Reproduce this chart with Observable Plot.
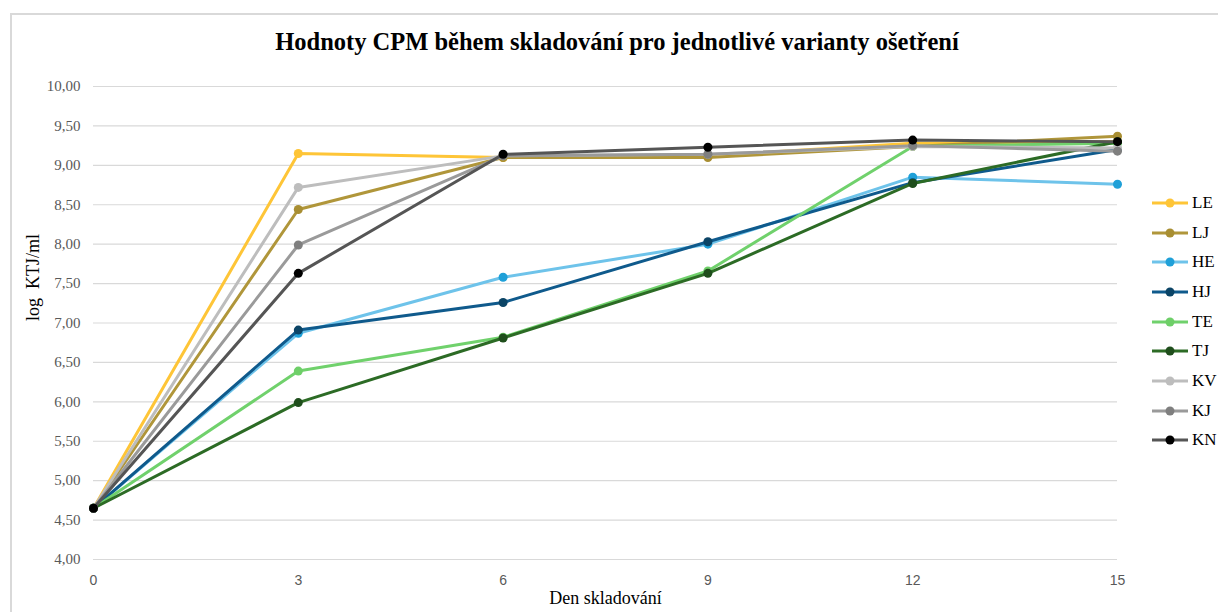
<!DOCTYPE html>
<html><head><meta charset="utf-8">
<script src="https://cdn.jsdelivr.net/npm/d3@7"></script>
<script src="https://cdn.jsdelivr.net/npm/@observablehq/plot@0.6"></script>
<style>
body{margin:0;width:1218px;height:612px;overflow:hidden;background:#fff;font-family:"Liberation Serif","Times New Roman",serif}
#wrap{position:relative;width:1218px;height:612px;overflow:hidden}
#frame{position:absolute;left:10px;top:13px;width:1300px;height:700px;border:2px solid #d9d9d9;box-sizing:border-box}
#title{position:absolute;top:28px;left:0;width:1234px;text-align:center;font-weight:bold;font-size:24.5px;color:#000;font-family:"Liberation Serif",serif}
#chart{position:absolute;left:0;top:70px}
#legend{position:absolute;left:1150px;top:188px}
.li{display:flex;align-items:center;height:29.7px;font-size:17px;color:#000;font-family:"Liberation Serif",serif}
.li svg{margin-right:2px}
g[aria-label="y-axis tick label"] text{font-family:"Liberation Serif",serif !important;font-size:15px}
g[aria-label="x-axis tick label"] text{font-family:"Liberation Sans",Arial,sans-serif !important;font-size:14px}
g[aria-label="text"] text{white-space:pre}
</style>
</head><body>
<div id="wrap">
<div id="frame"></div>
<div id="title">Hodnoty CPM během skladování pro jednotlivé varianty ošetření</div>
<div id="chart"></div>
<div id="legend"></div>
</div>
<script>
const days = [0, 3, 6, 9, 12, 15];
const seriesNames = ["LE", "LJ", "HE", "HJ", "TE", "TJ", "KV", "KJ", "KN"];
const LE = [4.65, 9.15, 9.10, 9.12, 9.28, 9.30];
const LJ = [4.65, 8.44, 9.10, 9.10, 9.24, 9.37];
const HE = [4.65, 6.87, 7.58, 8.00, 8.85, 8.76];
const HJ = [4.65, 6.91, 7.26, 8.03, 8.78, 9.20];
const TE = [4.65, 6.39, 6.82, 7.66, 9.24, 9.28];
const TJ = [4.65, 5.99, 6.81, 7.63, 8.77, 9.30];
const KV = [4.65, 8.72, 9.12, 9.14, 9.24, 9.22];
const KJ = [4.65, 7.99, 9.12, 9.14, 9.25, 9.18];
const KN = [4.65, 7.63, 9.14, 9.23, 9.32, 9.30];
const yTicks = [4, 4.5, 5, 5.5, 6, 6.5, 7, 7.5, 8, 8.5, 9, 9.5, 10];
const xLabel = "Den skladování";
const yLabel = "log  KTJ/ml";
const lineColors = ["#FEC537", "#B0963A", "#6EC3EA", "#0F5A8C", "#70D16C", "#2C6B25", "#BDBDBD", "#9A9A9A", "#555555"];
const dotColors  = ["#FEC537", "#A88E32", "#1FA0D8", "#0B4466", "#6ECF68", "#1F4E1C", "#BDBDBD", "#7F7F7F", "#000000"];

const valuesBySeries = {LE, LJ, HE, HJ, TE, TJ, KV, KJ, KN};
const rows = seriesNames.map(s => days.map((d, i) => ({series: s, day: d, value: valuesBySeries[s][i]})));

const fmt = v => d3.format(".2f")(v).replace(".", ",");

const marks = [
  Plot.ruleY(yTicks, {stroke: "#d9d9d9", strokeWidth: 1.2}),
  Plot.axisY({ticks: yTicks, tickFormat: fmt, tickSize: 0, tickPadding: 13, fill: "#595959", label: null}),
  Plot.axisX({ticks: days, tickFormat: d => String(d), tickSize: 0, tickPadding: 16, fill: "#595959", label: null}),
  Plot.text([xLabel], {frameAnchor: "bottom", dy: 44, fill: "#000", fontSize: 18, fontFamily: "Liberation Serif, serif"}),
  Plot.text([yLabel], {frameAnchor: "left", dx: -60, dy: -2, rotate: -90, fill: "#000", fontSize: 18, fontFamily: "Liberation Serif, serif"})
];
rows.forEach((r, i) => {
  marks.push(Plot.line(r, {x: "day", y: "value", stroke: lineColors[i], strokeWidth: 3}));
  marks.push(Plot.dot(r, {x: "day", y: "value", fill: dotColors[i], r: 4.5}));
});

const chart = Plot.plot({
  width: 1218, height: 542,
  marginLeft: 93, marginRight: 101, marginTop: 16, marginBottom: 53,
  style: {fontFamily: "Liberation Serif, serif", fontSize: "15px", background: "transparent", overflow: "visible"},
  x: {domain: [0, 15]},
  y: {domain: [4, 10]},
  marks
});
document.getElementById("chart").appendChild(chart);

const leg = d3.select("#legend");
seriesNames.forEach((s, i) => {
  const item = leg.append("div").attr("class", "li");
  const svg = item.append("svg").attr("width", 40).attr("height", 14);
  svg.append("line").attr("x1", 2).attr("x2", 38).attr("y1", 7).attr("y2", 7)
    .attr("stroke", lineColors[i]).attr("stroke-width", 3);
  svg.append("circle").attr("cx", 20).attr("cy", 7).attr("r", 4.5).attr("fill", dotColors[i]);
  item.append("span").text(s);
});
</script>
</body></html>
